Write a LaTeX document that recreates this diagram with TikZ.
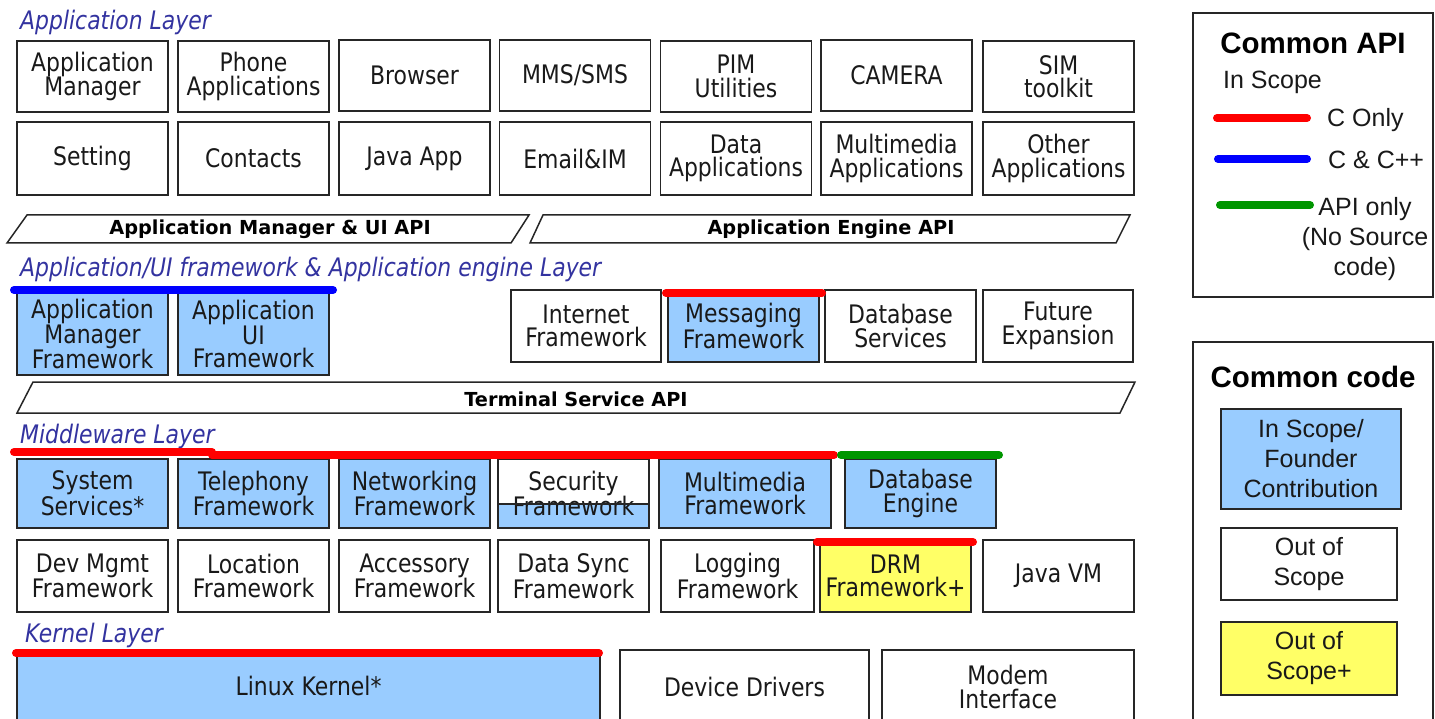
\documentclass[tikz,border=0pt]{standalone}
\usepackage{fontspec}
\newfontfamily\dvs{DejaVu Sans}[FakeStretch=0.86]
\newfontfamily\dvsw{DejaVu Sans}
\newfontfamily\legf{Liberation Sans}
\definecolor{lblue}{RGB}{153,204,255}
\definecolor{lyel}{RGB}{255,255,102}
\definecolor{laycol}{RGB}{51,51,160}
\definecolor{cred}{RGB}{255,0,0}
\definecolor{cblue}{RGB}{0,0,255}
\definecolor{cgreen}{RGB}{0,150,0}
\tikzset{
  bx/.style={draw=black!85, line width=1.5pt, fill=white, inner sep=0pt, align=center,
    minimum width=151pt, minimum height=72pt, text=black!90,
    font=\dvs\fontsize{25.5}{23.5}\selectfont},
  inbox/.style={bx, fill=lblue},
  ylbox/.style={bx, fill=lyel},
  apitxt/.style={font=\dvsw\bfseries\fontsize{19.3}{22}\selectfont, inner sep=0pt},
  apishape/.style={draw=black!85, line width=1.5pt},
  layertxt/.style={font=\dvs\itshape\fontsize{25.5}{28}\selectfont, text=laycol, anchor=base west, inner sep=0pt},
  scopeline/.style={line width=8pt, line cap=round},
  legtxt/.style={font=\legf\fontsize{25}{30}\selectfont, inner sep=0pt, align=center, text=black!90},
  legtitle/.style={font=\legf\bfseries\fontsize{29.5}{32}\selectfont, inner sep=0pt},
  legframe/.style={draw=black!85, line width=1.5pt},
  legbox/.style={draw=black!85, line width=1.5pt, inner sep=0pt, align=center, text=black!90,
    font=\legf\fontsize{25}{30}\selectfont}
}
\begin{document}
\begin{tikzpicture}[x=1pt,y=-1pt]
\useasboundingbox (0,0) rectangle (1435,719);
\clip (0,0) rectangle (1435,719);
\fill[white] (0,0) rectangle (1435,719);

% ---------- Application layer ----------
\node[layertxt] (lay1) at (20,29.5) {Application Layer};
\begin{scope}[every node/.style={bx, minimum height=71pt}]
\node (a11) at (92.5,76.5) {Application\\Manager};
\node (a12) at (253.5,76.5) {Phone\\Applications};
\node (a13) at (414.5,75.5) {Browser};
\node (a14) at (575,75.5) {MMS/SMS};
\node (a15) at (736,76.5) {PIM\\Utilities};
\node (a16) at (896.5,75.5) {CAMERA};
\node (a17) at (1058.5,76.5) {SIM\\toolkit};
\end{scope}
\begin{scope}[every node/.style={bx, minimum height=73pt}]
\node (a21) at (92.5,158.5) {Setting};
\node (a22) at (253.5,158.5) {Contacts};
\node (a23) at (414.5,158.5) {Java App};
\node (a24) at (575,158.5) {Email\&IM};
\node (a25) at (736,158.5) {Data\\Applications};
\node (a26) at (896.5,158.5) {Multimedia\\Applications};
\node (a27) at (1058.5,158.5) {Other\\Applications};
\end{scope}

% ---------- API bars ----------
\draw[apishape] (7,243) -- (27,215) -- (529,215) -- (511,243) -- cycle;
\node[apitxt] (api1) at (270,229) {Application Manager \& UI API};
\draw[apishape] (530,243) -- (543,215) -- (1130,215) -- (1116,243) -- cycle;
\node[apitxt] (api2) at (831,229) {Application Engine API};

% ---------- Framework layer ----------
\node[layertxt] (lay2) at (20,277) {Application/UI framework \& Application engine Layer};
\node[inbox, minimum height=82pt] (f1) at (92.5,334) {Application\\Manager\\Framework};
\node[inbox, minimum height=82pt] (f2) at (253.5,334) {Application\\UI\\Framework};
\node[bx, minimum width=150pt] (f3) at (586,326) {Internet\\Framework};
\node[inbox, minimum width=151pt] (f4) at (743.5,326) {Messaging\\Framework};
\node[bx, minimum width=151pt] (f5) at (900.5,326) {Database\\Services};
\node[bx, minimum width=150pt] (f6) at (1058,326) {Future\\Expansion};
\draw[scopeline, cblue] (14,290) -- (333,290);
\draw[scopeline, cred] (666,293) -- (822,293);

\draw[apishape] (17,413) -- (33,382) -- (1135,382) -- (1120,413) -- cycle;
\node[apitxt] (api3) at (576,399) {Terminal Service API};

% ---------- Middleware layer ----------
\node[layertxt] (lay3) at (20,443) {Middleware Layer};
\begin{scope}[every node/.style={inbox, minimum height=69pt}]
\node (m11) at (92.5,493.5) {System\\Services*};
\node (m12) at (253.5,493.5) {Telephony\\Framework};
\node (m13) at (414.5,493.5) {Networking\\Framework};
\node[minimum width=172pt] (m15) at (745,493.5) {Multimedia\\Framework};
\node (m16) at (920.5,493.5) {Database\\Engine};
\end{scope}
\fill[lblue] (498,504) rectangle (649,528);
\node[bx, fill=none, minimum height=69pt] (m14) at (573.5,493.5) {Security\\Framework};
\draw[draw=black!85, line width=1.3pt] (m14.west |- 0,504) -- (m14.east |- 0,504);

\begin{scope}[every node/.style={bx}]
\node (m21) at (92.5,576) {Dev Mgmt\\Framework};
\node (m22) at (253.5,576) {Location\\Framework};
\node (m23) at (414.5,576) {Accessory\\Framework};
\node (m24) at (573.5,576) {Data Sync\\Framework};
\node[minimum width=153pt] (m25) at (737.5,576) {Logging\\Framework};
\node[fill=lyel] (m26) at (895.5,576) {DRM\\Framework+};
\node (m27) at (1058.5,576) {Java VM};
\end{scope}
\draw[scopeline, cred] (14,452) -- (212,452);
\draw[scopeline, cred] (212,455) -- (834,455);
\draw[scopeline, cgreen] (841,455) -- (999,455);
\draw[scopeline, cred] (817,542) -- (973,542);

% ---------- Kernel layer ----------
\node[layertxt] (lay4) at (25,642) {Kernel Layer};
\node[inbox, minimum width=583pt, minimum height=68pt, text depth=8pt] (k1) at (308.5,690) {Linux Kernel*};
\node[bx, minimum width=249pt, minimum height=74pt] (k2) at (744.5,687) {Device Drivers};
\node[bx, minimum width=252pt, minimum height=74pt] (k3) at (1008,687) {Modem\\Interface};
\draw[scopeline, cred] (16,653) -- (599,653);

% ---------- Legend: Common API ----------
\draw[legframe] (1193,13) rectangle (1433,297);
\node[legtitle] (lt1) at (1313,43) {Common API};
\node[legtxt, anchor=west] (lis) at (1223,82) {In Scope};
\coordinate (r1) at (1217,118); \coordinate (r2) at (1307,118);
\draw[scopeline, cred] (r1) -- (r2);
\node[legtxt, anchor=west] (lc) at (1327,120) {C Only};
\coordinate (b1) at (1218,159); \coordinate (b2) at (1307,159);
\draw[scopeline, cblue] (b1) -- (b2);
\node[legtxt, anchor=west] (lcc) at (1328,160) {C \& C++};
\coordinate (g1) at (1220,205); \coordinate (g2) at (1310,205);
\draw[scopeline, cgreen] (g1) -- (g2);
\node[legtxt] (lapi) at (1365,239) {API only\\(No Source\\code)};

% ---------- Legend: Common code ----------
\draw[legframe] (1193,342) rectangle (1433,730);
\node[legtitle] (lt2) at (1313,377) {Common code};
\node[legbox, fill=lblue, minimum width=180pt, minimum height=100pt] (lb1) at (1311,459) {In Scope/\\Founder\\Contribution};
\node[legbox, fill=white, minimum width=176pt, minimum height=72pt] (lb2) at (1309,564) {Out of\\Scope};
\node[legbox, fill=lyel, minimum width=176pt, minimum height=73pt] (lb3) at (1309,658.5) {Out of\\Scope+};
\end{tikzpicture}
\end{document}
